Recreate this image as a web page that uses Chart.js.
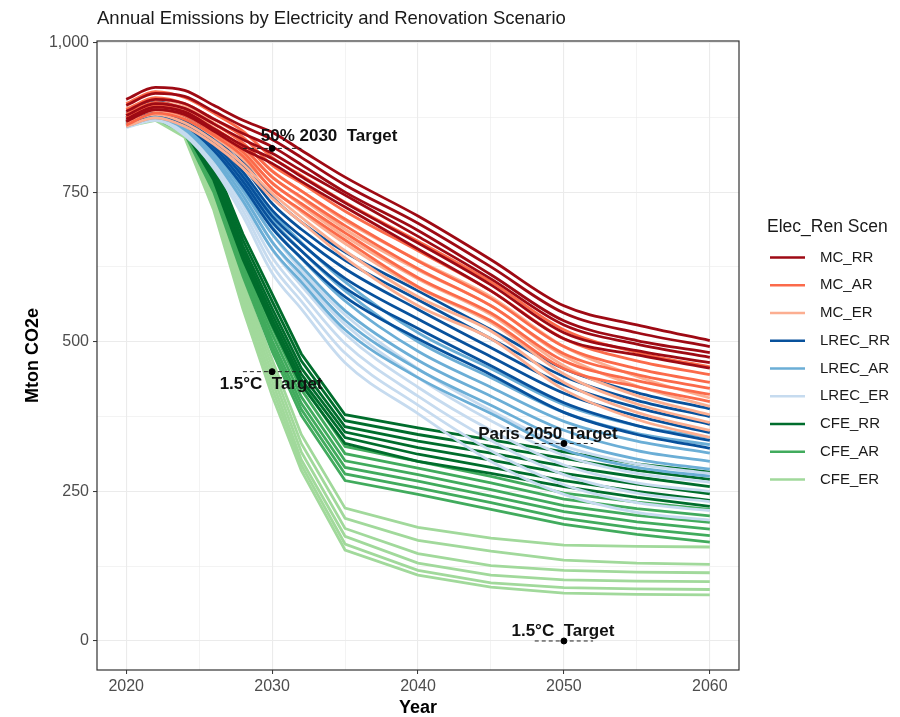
<!DOCTYPE html>
<html>
<head>
<meta charset="utf-8">
<script src="https://cdn.jsdelivr.net/npm/chart.js@4.4.0/dist/chart.umd.min.js"></script>
<style>
  body { margin: 0; background: #fff; }
  #wrap { width: 900px; height: 717px; }
</style>
</head>
<body>
<div id="wrap"><canvas id="cv" width="900" height="717"></canvas></div>
<script>
// years sampled along every trajectory
const years = [2020, 2022, 2024, 2026, 2028, 2030, 2032, 2035, 2040, 2045, 2050, 2055, 2060];

// Mton CO2e, one row per run
const mcRR = [
  [905, 925, 920, 895, 870, 850, 820, 775, 710, 637, 560, 528, 502],
  [895, 915, 910, 885, 860, 838, 808, 762, 698, 625, 548, 515, 492],
  [885, 905, 898, 872, 848, 826, 796, 750, 686, 612, 535, 502, 482],
  [878, 898, 890, 864, 838, 815, 786, 745, 676, 605, 528, 496, 474],
  [872, 892, 884, 856, 828, 806, 776, 732, 665, 595, 515, 485, 465],
  [868, 888, 880, 852, 822, 798, 768, 725, 655, 585, 505, 478, 456]
];
const mcAR = [
  [898, 918, 908, 882, 852, 808, 778, 733, 668, 600, 520, 482, 458],
  [888, 908, 898, 872, 842, 795, 765, 718, 652, 585, 505, 468, 445],
  [880, 900, 890, 864, 832, 785, 752, 705, 635, 572, 492, 455, 432],
  [875, 895, 884, 857, 825, 775, 742, 694, 622, 560, 480, 445, 422],
  [868, 888, 878, 850, 817, 765, 731, 682, 607, 548, 468, 435, 412],
  [862, 882, 872, 845, 810, 755, 720, 670, 592, 535, 455, 425, 400]
];
const mcER = [
  [890, 905, 895, 866, 832, 786, 752, 702, 636, 575, 492, 442, 406],
  [884, 898, 888, 858, 822, 776, 740, 688, 620, 560, 476, 426, 392],
  [878, 892, 880, 850, 813, 766, 728, 676, 605, 545, 460, 410, 378],
  [872, 886, 873, 843, 805, 756, 717, 664, 590, 532, 446, 396, 365],
  [866, 880, 866, 836, 797, 748, 708, 652, 575, 518, 432, 382, 352],
  [860, 874, 860, 830, 790, 740, 700, 640, 560, 505, 420, 370, 340]
];
const lrecRR = [
  [882, 902, 886, 852, 802, 742, 700, 650, 585, 520, 455, 415, 388],
  [878, 896, 880, 845, 793, 731, 688, 636, 570, 505, 442, 402, 375],
  [874, 891, 874, 838, 784, 720, 676, 622, 554, 490, 428, 390, 362],
  [870, 887, 869, 832, 776, 710, 664, 606, 538, 475, 414, 376, 348],
  [866, 884, 865, 826, 768, 700, 652, 590, 522, 460, 398, 360, 335],
  [862, 880, 862, 820, 760, 690, 640, 575, 505, 445, 382, 345, 322]
];
const lrecAR = [
  [876, 891, 875, 835, 780, 716, 666, 600, 515, 455, 395, 360, 340],
  [872, 887, 870, 828, 771, 704, 652, 585, 500, 440, 382, 347, 328],
  [868, 883, 865, 822, 762, 692, 639, 568, 484, 424, 367, 334, 314],
  [865, 880, 861, 816, 753, 680, 626, 552, 469, 409, 352, 318, 300],
  [862, 877, 858, 810, 744, 667, 613, 536, 454, 394, 336, 304, 287],
  [860, 874, 855, 805, 735, 655, 600, 520, 440, 380, 320, 290, 275]
];
const lrecER = [
  [870, 885, 866, 820, 755, 680, 620, 545, 455, 385, 326, 296, 280],
  [867, 881, 862, 814, 746, 667, 607, 529, 440, 368, 310, 280, 265],
  [864, 878, 858, 808, 737, 654, 594, 513, 424, 352, 294, 264, 250],
  [862, 875, 854, 802, 728, 641, 581, 497, 409, 335, 278, 247, 233],
  [860, 872, 849, 796, 719, 628, 568, 481, 394, 318, 261, 231, 218],
  [858, 870, 845, 790, 710, 615, 555, 465, 380, 300, 245, 215, 202]
];
const cfeRR = [
  [878, 892, 872, 800, 680, 580, 480, 378, 356, 336, 316, 296, 282],
  [874, 888, 867, 792, 670, 568, 468, 368, 345, 325, 305, 285, 270],
  [870, 884, 863, 786, 660, 556, 456, 358, 334, 314, 292, 274, 258],
  [868, 881, 860, 780, 652, 546, 446, 349, 323, 302, 280, 262, 246],
  [866, 878, 857, 775, 645, 537, 437, 340, 312, 290, 268, 250, 235],
  [864, 876, 854, 770, 638, 528, 428, 330, 300, 280, 258, 240, 225]
];
const cfeAR = [
  [874, 888, 866, 775, 645, 535, 432, 325, 300, 275, 247, 232, 220],
  [871, 885, 862, 770, 638, 524, 420, 313, 289, 264, 237, 221, 209],
  [868, 882, 858, 765, 631, 513, 408, 301, 278, 253, 226, 210, 198],
  [866, 879, 855, 760, 624, 502, 397, 290, 267, 242, 216, 199, 187],
  [864, 876, 852, 755, 617, 493, 387, 279, 256, 231, 205, 188, 176],
  [862, 874, 849, 750, 610, 484, 377, 268, 245, 220, 195, 178, 165]
];
const cfeER = [
  [872, 885, 860, 745, 600, 470, 345, 222, 190, 172, 160, 158, 157],
  [869, 882, 856, 740, 592, 458, 330, 205, 168, 150, 135, 130, 128],
  [866, 879, 852, 735, 583, 446, 316, 188, 146, 126, 118, 115, 114],
  [864, 876, 848, 730, 574, 434, 303, 175, 130, 110, 102, 100, 99],
  [862, 873, 845, 725, 565, 422, 294, 162, 118, 97, 89, 87, 86],
  [860, 870, 842, 720, 555, 410, 285, 152, 110, 90, 80, 78, 77]
];

const scenNames = ['MC_RR', 'MC_AR', 'MC_ER', 'LREC_RR', 'LREC_AR', 'LREC_ER', 'CFE_RR', 'CFE_AR', 'CFE_ER'];
const scenColors = ['#9E0A14', '#FB6A4A', '#FCAE91', '#08519C', '#6BAED6', '#C6DBEF', '#006D2C', '#41AB5D', '#A1D99B'];
const scenRuns = [mcRR, mcAR, mcER, lrecRR, lrecAR, lrecER, cfeRR, cfeAR, cfeER];

const targetYears = [2030, 2030, 2050, 2050];
const targetValues = [823, 450, 330, 0];
const targetLabels = ['50% 2030  Target', '1.5°C  Target', 'Paris 2050 Target', '1.5°C  Target'];

const xTicks = [2020, 2025, 2030, 2035, 2040, 2045, 2050, 2055, 2060];
const yTicks = [0, 125, 250, 375, 500, 625, 750, 875, 1000];

const FONT = '"Liberation Sans", Arial, sans-serif';
Chart.defaults.font.family = FONT;

// build datasets
var datasets = [];
scenRuns.forEach(function(runs, s) {
  runs.forEach(function(run) {
    datasets.push({
      label: scenNames[s],
      data: years.map(function(yr, i) { return {x: yr, y: run[i]}; }),
      borderColor: scenColors[s],
      borderWidth: 2.8,
      pointRadius: 0,
      fill: false,
      // CFE runs have a hard bend at 2035, keep them straight
      cubicInterpolationMode: s < 6 ? 'monotone' : 'default',
      tension: 0
    });
  });
});

// dashed target bars + dots
targetYears.forEach(function(yr, i) {
  datasets.push({
    label: 'target',
    data: [{x: yr - 2, y: targetValues[i]}, {x: yr + 2, y: targetValues[i]}],
    borderColor: '#222',
    borderWidth: 1,
    borderDash: [4, 3],
    pointRadius: 0,
    order: -1
  });
});
datasets.push({
  label: 'target',
  data: targetYears.map(function(yr, i) { return {x: yr, y: targetValues[i]}; }),
  showLine: false,
  pointRadius: 3,
  pointBackgroundColor: '#000',
  pointBorderColor: '#000',
  order: -2
});

// label offsets in px from each target dot (centre of text)
const labelOffsets = [[57, -12], [-1, 13], [-16, -9], [-1, -10]];

const decor = {
  id: 'decor',
  afterDraw: function(chart) {
    const ctx = chart.ctx, a = chart.chartArea;
    const x = chart.scales.x, y = chart.scales.y;
    ctx.save();

    // panel border
    ctx.strokeStyle = '#333';
    ctx.lineWidth = 1.2;
    ctx.strokeRect(a.left, a.top, a.right - a.left, a.bottom - a.top);

    // title
    ctx.fillStyle = '#1a1a1a';
    ctx.font = '18.5px ' + FONT;
    ctx.textAlign = 'left';
    ctx.textBaseline = 'middle';
    ctx.fillText('Annual Emissions by Electricity and Renovation Scenario', a.left, 19);

    // target labels
    ctx.font = 'bold 17px ' + FONT;
    ctx.fillStyle = '#111';
    ctx.textAlign = 'center';
    targetLabels.forEach(function(t, i) {
      const px = x.getPixelForValue(targetYears[i]) + labelOffsets[i][0];
      const py = y.getPixelForValue(targetValues[i]) + labelOffsets[i][1];
      ctx.fillText(t, px, py);
    });

    // legend
    ctx.textAlign = 'left';
    ctx.fillStyle = '#1a1a1a';
    ctx.font = '17.5px ' + FONT;
    ctx.fillText('Elec_Ren Scen', 767, 227);
    ctx.font = '15px ' + FONT;
    scenNames.forEach(function(n, i) {
      const ly = 257.5 + i * 27.75;
      ctx.strokeStyle = scenColors[i];
      ctx.lineWidth = 2.5;
      ctx.beginPath();
      ctx.moveTo(770, ly);
      ctx.lineTo(805, ly);
      ctx.stroke();
      ctx.fillStyle = '#1a1a1a';
      ctx.fillText(n, 820, ly);
    });
    ctx.restore();
  }
};

new Chart(document.getElementById('cv').getContext('2d'), {
  type: 'line',
  data: {datasets: datasets},
  options: {
    responsive: false,
    animation: false,
    layout: {padding: {top: 41, right: 161, bottom: 0, left: 0}},
    plugins: {legend: {display: false}, tooltip: {enabled: false}},
    scales: {
      x: {
        type: 'linear',
        min: 2018,
        max: 2062,
        afterBuildTicks: function(s) { s.ticks = xTicks.map(function(v) { return {value: v}; }); },
        afterFit: function(s) { s.height = 47; },
        border: {display: false},
        grid: {
          color: '#EBEBEB',
          lineWidth: function(c) { return c.tick && c.tick.value % 10 === 0 ? 1.1 : 0.6; },
          tickColor: function(c) { return c.tick && c.tick.value % 10 === 0 ? '#333' : 'rgba(0,0,0,0)'; },
          tickWidth: 1,
          tickLength: 4
        },
        ticks: {
          autoSkip: false,
          maxRotation: 0,
          padding: 3,
          color: '#4D4D4D',
          font: {size: 16},
          callback: function(v) { return v % 10 === 0 ? String(v) : ''; }
        },
        title: {display: true, text: 'Year', color: '#000', font: {size: 18, weight: 'bold'}, padding: {top: 0, bottom: -2}}
      },
      y: {
        min: -48.5,
        max: 1002.5,
        afterBuildTicks: function(s) { s.ticks = yTicks.map(function(v) { return {value: v}; }); },
        afterFit: function(s) { s.width = 97; },
        border: {display: false},
        grid: {
          color: '#EBEBEB',
          lineWidth: function(c) { return c.tick && c.tick.value % 250 === 0 ? 1.1 : 0.6; },
          tickColor: function(c) { return c.tick && c.tick.value % 250 === 0 ? '#333' : 'rgba(0,0,0,0)'; },
          tickWidth: 1,
          tickLength: 4
        },
        ticks: {
          autoSkip: false,
          padding: 4,
          color: '#4D4D4D',
          font: {size: 16},
          callback: function(v) { return v % 250 === 0 ? v.toLocaleString('en-US') : ''; }
        },
        title: {display: true, text: 'Mton CO2e', color: '#000', font: {size: 18, weight: 'bold'}, padding: {top: 22, bottom: 0}}
      }
    }
  },
  plugins: [decor]
});
</script>
</body>
</html>
